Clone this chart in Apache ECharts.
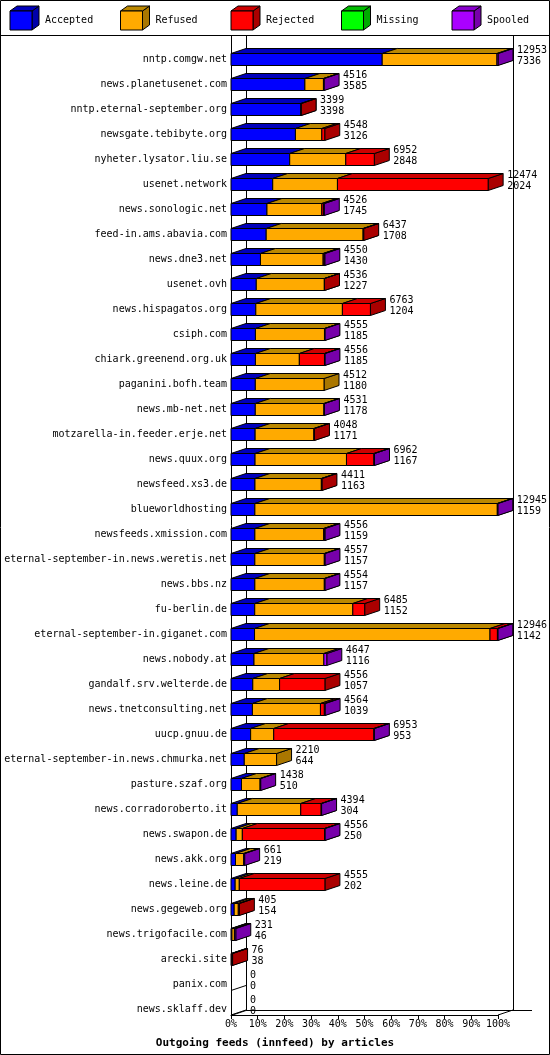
<!DOCTYPE html>
<html><head><meta charset="utf-8">
<script src="https://cdn.jsdelivr.net/npm/echarts@6/dist/echarts.min.js"></script>
<style>html,body{margin:0;padding:0;background:#fff}#c{width:550px;height:1055px}</style>
</head><body><div id="c"></div>
<script>
const hosts = ["nntp.comgw.net","news.planetusenet.com","nntp.eternal-september.org","newsgate.tebibyte.org","nyheter.lysator.liu.se","usenet.network","news.sonologic.net","feed-in.ams.abavia.com","news.dne3.net","usenet.ovh","news.hispagatos.org","csiph.com","chiark.greenend.org.uk","paganini.bofh.team","news.mb-net.net","motzarella-in.feeder.erje.net","news.quux.org","newsfeed.xs3.de","blueworldhosting","newsfeeds.xmission.com","eternal-september-in.news.weretis.net","news.bbs.nz","fu-berlin.de","eternal-september-in.giganet.com","news.nobody.at","gandalf.srv.welterde.de","news.tnetconsulting.net","uucp.gnuu.de","eternal-september-in.news.chmurka.net","pasture.szaf.org","news.corradoroberto.it","news.swapon.de","news.akk.org","news.leine.de","news.gegeweb.org","news.trigofacile.com","arecki.site","panix.com","news.sklaff.dev"];
const totals   = [12953,4516,3399,4548,6952,12474,4526,6437,4550,4536,6763,4555,4556,4512,4531,4048,6962,4411,12945,4556,4557,4554,6485,12946,4647,4556,4564,6953,2210,1438,4394,4556,661,4555,405,231,76,0,0];
const accepted = [7336,3585,3398,3126,2848,2024,1745,1708,1430,1227,1204,1185,1185,1180,1178,1171,1167,1163,1159,1159,1157,1157,1152,1142,1116,1057,1039,953,644,510,304,250,219,202,154,46,38,0,0];
const refused  = [5567,900,0,1280,2720,3140,2660,4700,3040,3300,4200,3350,2130,3332,3330,2850,4435,3220,11760,3340,3370,3370,4758,11423,3390,1300,3300,1120,1566,900,3080,300,396,200,200,120,0,0,0];
const rejected = [0,0,1,142,1384,7310,80,29,50,9,1359,0,1220,0,0,27,1330,28,0,30,0,0,575,360,0,2199,190,4860,0,0,990,3990,0,4153,51,0,38,0,0];
const missing  = [0,0,0,0,0,0,0,0,0,0,0,0,0,0,0,0,0,0,0,0,0,0,0,0,0,0,0,0,0,0,0,0,0,0,0,0,0,0,0];
const spooled  = [50,31,0,0,0,0,41,0,30,0,0,20,21,0,23,0,30,0,26,27,30,27,0,21,141,0,35,20,0,28,20,16,46,0,0,65,0,0,0];
const seriesNames = ["Accepted","Refused","Rejected","Missing","Spooled"];
const xTickPercents = [0,10,20,30,40,50,60,70,80,90,100];

const FRONT = ["#0000ff","#ffaa00","#ff0000","#00ff00","#aa00ff"];
const TOP   = ["#0000bb","#bb8800","#cc0000","#00bb00","#8800cc"];
const SIDE  = ["#0000aa","#aa7700","#aa0000","#00aa00","#7700aa"];
const DX = 15, DY = 5, FONT = '"DejaVu Sans Mono", monospace';
const maxTotal = Math.max(...totals);

const data = hosts.map((h,i)=>[i, accepted[i], refused[i], rejected[i], missing[i], spooled[i], totals[i]]);

function box(x0,x1,c,k){
  const t=c-6, b=c+6;
  return [
    {type:'polygon',shape:{points:[[x1,b],[x1,t],[x1+DX,t-DY],[x1+DX,b-DY]]},style:{fill:SIDE[k],stroke:'#000',lineWidth:1}},
    {type:'polygon',shape:{points:[[x0,t],[x0+DX,t-DY],[x1+DX,t-DY],[x1,t]]},style:{fill:TOP[k],stroke:'#000',lineWidth:1}},
    {type:'rect',shape:{x:x0,y:t,width:x1-x0,height:b-t},style:{fill:FRONT[k],stroke:'#000',lineWidth:1}}
  ];
}

function renderItem(params, api){
  const row = api.value(0);
  const children=[];
  let cum=0;
  const p0 = api.coord([0,row]);
  const c = p0[1];
  let xEnd = p0[0];
  for(let k=0;k<5;k++){
    const v=api.value(k+1);
    if(v<=0) continue;
    const a=api.coord([cum,row])[0];
    cum+=v;
    const b=api.coord([cum,row])[0];
    children.push(...box(a,b,c,k));
    xEnd=b;
  }
  if(cum===0){
    children.push({type:'line',shape:{x1:p0[0],y1:c+6,x2:p0[0]+DX,y2:c+6-DY},style:{stroke:'#000',lineWidth:1}});
  }
  const tx = xEnd+DX+4;
  children.push({type:'text',style:{x:tx,y:c-9,text:String(api.value(6)),font:'10px '+FONT,fill:'#000',verticalAlign:'middle'}});
  children.push({type:'text',style:{x:tx,y:c+2,text:String(api.value(1)),font:'10px '+FONT,fill:'#000',verticalAlign:'middle'}});
  return {type:'group',children};
}

const gLeft=231, gRight=498, axisY=1015, backY=axisY-DY;
const graphics=[
  {type:'rect',shape:{x:0.5,y:0.5,width:549,height:1054},style:{fill:null,stroke:'#000',lineWidth:1},z:-1},
  {type:'line',shape:{x1:0,y1:35.5,x2:550,y2:35.5},style:{stroke:'#000'}},
  {type:'line',shape:{x1:gLeft+0.5,y1:36,x2:gLeft+0.5,y2:axisY},style:{stroke:'#000'}},
  {type:'line',shape:{x1:gLeft+DX+0.5,y1:36,x2:gLeft+DX+0.5,y2:backY},style:{stroke:'#000'},z:-1},
  {type:'line',shape:{x1:gRight+DX+0.5,y1:36,x2:gRight+DX+0.5,y2:backY},style:{stroke:'#000'},z:-1},
  {type:'line',shape:{x1:gLeft+DX,y1:backY+0.5,x2:532,y2:backY+0.5},style:{stroke:'#000'},z:-1},
  {type:'line',shape:{x1:gLeft,y1:axisY,x2:gLeft+DX,y2:backY},style:{stroke:'#000'},z:-1},
  {type:'line',shape:{x1:gRight,y1:axisY,x2:gRight+DX,y2:backY},style:{stroke:'#000'},z:-1},
  {type:'text',style:{x:275,y:1043,text:'Outgoing feeds (innfeed) by articles',font:'bold 11px '+FONT,fill:'#000',align:'center',verticalAlign:'middle'}}
];
seriesNames.forEach((n,k)=>{
  const x=10+k*110.5, y=11;
  graphics.push({type:'polygon',shape:{points:[[x+22,y+19],[x+22,y],[x+29,y-5],[x+29,y+14]]},style:{fill:SIDE[k],stroke:'#000'}});
  graphics.push({type:'polygon',shape:{points:[[x,y],[x+7,y-5],[x+29,y-5],[x+22,y]]},style:{fill:TOP[k],stroke:'#000'}});
  graphics.push({type:'rect',shape:{x:x,y:y,width:22,height:19},style:{fill:FRONT[k],stroke:'#000'}});
  graphics.push({type:'text',style:{x:x+35,y:y+9,text:n,font:'10px '+FONT,fill:'#000',verticalAlign:'middle'}});
});

const chart=echarts.init(document.getElementById('c'),null,{renderer:'canvas'});
chart.setOption({
  animation:false,
  grid:{left:gLeft,right:550-gRight,top:47,height:975},
  xAxis:{type:'value',min:0,max:maxTotal,interval:maxTotal/10,offset:-7,
    splitLine:{show:false},
    axisLine:{show:true,lineStyle:{color:'#000',width:1}},
    axisTick:{show:true,length:4,lineStyle:{color:'#000'}},
    axisLabel:{color:'#000',fontFamily:FONT,fontSize:10,margin:4,
      formatter:v=>xTickPercents[Math.round(v/maxTotal*10)]+'%'}},
  yAxis:{type:'category',data:hosts,inverse:true,
    axisLine:{show:false},axisTick:{show:false},splitLine:{show:false},
    axisLabel:{color:'#000',fontFamily:FONT,fontSize:10,margin:4,padding:[0,0,5,0]}},
  series:[{type:'custom',renderItem,data,clip:false,encode:{x:6,y:0}}],
  graphic:graphics
});
</script></body></html>
